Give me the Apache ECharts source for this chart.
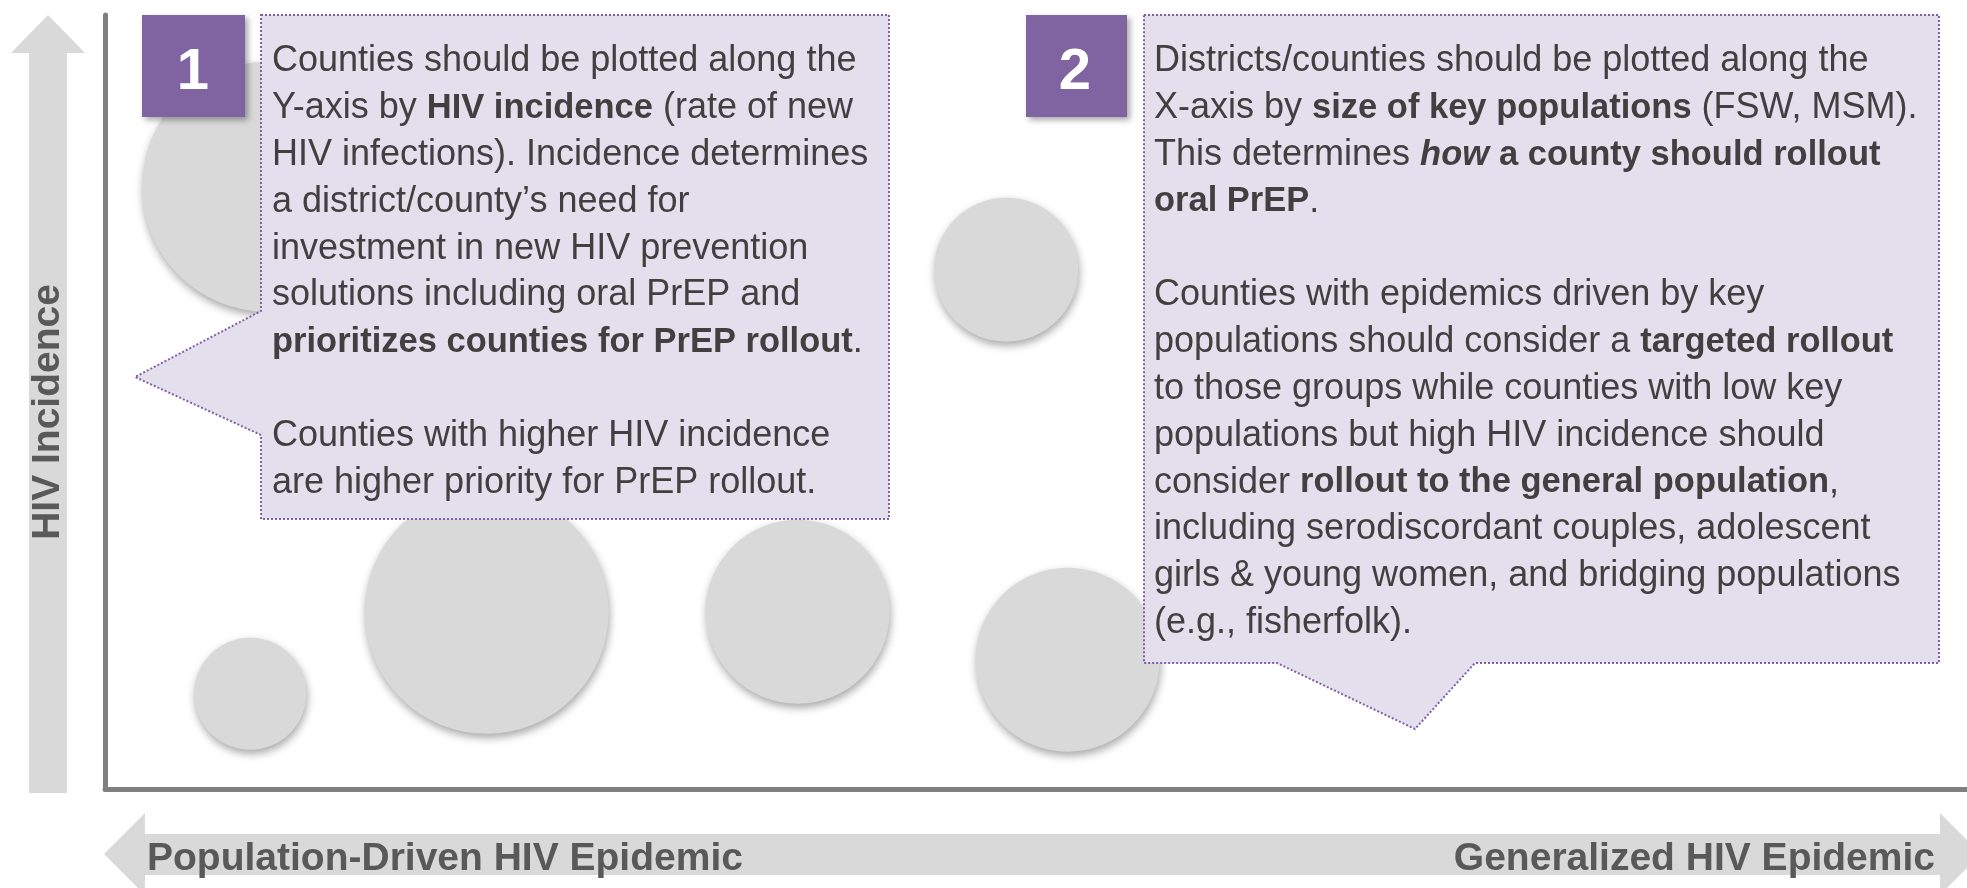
<!DOCTYPE html>
<html>
<head>
<meta charset="utf-8">
<script src="https://cdn.jsdelivr.net/npm/echarts@6/dist/echarts.min.js"></script>
<style>
  html, body { margin: 0; padding: 0; background: #ffffff; }
  #chart { width: 1967px; height: 888px; }
</style>
</head>
<body>
<div id="chart"></div>
<script>
// ---- Data ----
// Bubble positions on a 0–100 key-population (x) / HIV-incidence (y) scale
const bubbleX = [8.7, 48.4, 7.8, 20.5, 37.2, 51.7];
const bubbleY = [77.8, 67.1, 12.3, 22.9, 22.9, 16.7];
// Bubble magnitude (radius units)
const bubbleRadius = [125, 72, 56, 122, 92, 92];

// Axis titles
const yAxisTitle = 'HIV Incidence';
const xAxisLeftTitle = 'Population-Driven HIV Epidemic';
const xAxisRightTitle = 'Generalized HIV Epidemic';

// Callout badges and texts
const badgeLabels = ['1', '2'];
const callout1Lines = [
  'Counties should be plotted along the',
  'Y-axis by {b|HIV incidence} (rate of new',
  'HIV infections). Incidence determines',
  'a district/county\u2019s need for',
  'investment in new HIV prevention',
  'solutions including oral PrEP and',
  '{b|prioritizes counties for PrEP rollout}.',
  '',
  'Counties with higher HIV incidence',
  'are higher priority for PrEP rollout.'
];
const callout2Lines = [
  'Districts/counties should be plotted along the',
  'X-axis by {b|size of key populations} (FSW, MSM).',
  'This determines {bi|how} {b|a county should rollout}',
  '{b|oral PrEP}.',
  '',
  'Counties with epidemics driven by key',
  'populations should consider a {b|targeted rollout}',
  'to those groups while counties with low key',
  'populations but high HIV incidence should',
  'consider {b|rollout to the general population},',
  'including serodiscordant couples, adolescent',
  'girls & young women, and bridging populations',
  '(e.g., fisherfolk).'
];

// ---- Styling ----
const FONT = "'Liberation Sans', Arial, 'DejaVu Sans', sans-serif";
const TEXT_COLOR = '#404040';
const LABEL_COLOR = '#595959';
const ARROW_COLOR = '#d9d9d9';
const CALLOUT_FILL = '#e4dfec';
const CALLOUT_STROKE = '#7f5fa8';
const BADGE_FILL = '#8064a2';
const BODY_SIZE = 36;
const BOLD_SIZE = 34.5;
const LINE_H = 46.8;

const chart = echarts.init(document.getElementById('chart'), null, { renderer: 'canvas' });

function richStyles() {
  return {
    b: { fontFamily: FONT, fontSize: BOLD_SIZE, fontWeight: 'bold', fill: TEXT_COLOR, lineHeight: LINE_H },
    bi: { fontFamily: FONT, fontSize: BOLD_SIZE, fontWeight: 'bold', fontStyle: 'italic', fill: TEXT_COLOR, lineHeight: LINE_H }
  };
}

const calloutStyle = {
  fill: CALLOUT_FILL,
  stroke: CALLOUT_STROKE,
  lineWidth: 2,
  lineDash: [2, 2]
};

const option = {
  backgroundColor: '#ffffff',
  animation: false,
  grid: { left: 105, right: 0, top: 15, bottom: 99, containLabel: false },
  xAxis: {
    type: 'value', min: 0, max: 100,
    axisLine: { show: true, onZero: false, lineStyle: { color: '#7f7f7f', width: 5 } },
    axisTick: { show: false }, axisLabel: { show: false }, splitLine: { show: false }
  },
  yAxis: {
    type: 'value', min: 0, max: 100,
    axisLine: { show: true, onZero: false, lineStyle: { color: '#7f7f7f', width: 5 } },
    axisTick: { show: false }, axisLabel: { show: false }, splitLine: { show: false }
  },
  series: [{
    type: 'scatter',
    z: 2,
    data: bubbleX.map((x, i) => [x, bubbleY[i], bubbleRadius[i]]),
    symbol: 'circle',
    symbolSize: (val) => val[2] * 2,
    itemStyle: {
      color: '#d9d9d9',
      opacity: 1,
      shadowBlur: 8,
      shadowOffsetX: 1,
      shadowOffsetY: 4,
      shadowColor: 'rgba(0,0,0,0.35)'
    },
    emphasis: { disabled: true },
    silent: true
  }],
  graphic: [
    // Up arrow (HIV incidence)
    {
      type: 'polygon', z: 0, silent: true,
      shape: { points: [[11, 53], [48, 15], [85, 53], [67, 53], [67, 793], [29, 793], [29, 53]] },
      style: { fill: ARROW_COLOR }
    },
    {
      type: 'text', z: 1, silent: true,
      x: 48, y: 412, rotation: Math.PI / 2,
      style: {
        text: yAxisTitle, fontFamily: FONT, fontSize: 39, fontWeight: 'bold',
        fill: LABEL_COLOR, align: 'center', verticalAlign: 'middle'
      }
    },
    // Double arrow (epidemic type)
    {
      type: 'polygon', z: 0, silent: true,
      shape: { points: [[104, 854], [145, 813], [145, 834], [1940, 834], [1940, 813], [1981, 854],
                        [1940, 895], [1940, 875], [145, 875], [145, 895]] },
      style: { fill: ARROW_COLOR }
    },
    {
      type: 'text', z: 1, silent: true,
      x: 147, y: 859,
      style: {
        text: xAxisLeftTitle, fontFamily: FONT, fontSize: 39, fontWeight: 'bold',
        fill: LABEL_COLOR, align: 'left', verticalAlign: 'middle'
      }
    },
    {
      type: 'text', z: 1, silent: true,
      x: 1935, y: 859,
      style: {
        text: xAxisRightTitle, fontFamily: FONT, fontSize: 39, fontWeight: 'bold',
        fill: LABEL_COLOR, align: 'right', verticalAlign: 'middle'
      }
    },
    // Callout 1
    {
      type: 'polygon', z: 100, silent: true,
      shape: { points: [[261, 15], [889, 15], [889, 519], [261, 519], [261, 435], [135, 377], [261, 311]] },
      style: calloutStyle
    },
    {
      type: 'text', z: 101, silent: true,
      x: 272, y: 38,
      style: {
        text: callout1Lines.join('\n'),
        fontFamily: FONT, fontSize: BODY_SIZE, fill: TEXT_COLOR, lineHeight: LINE_H,
        align: 'left', verticalAlign: 'top',
        rich: richStyles()
      }
    },
    // Callout 2
    {
      type: 'polygon', z: 100, silent: true,
      shape: { points: [[1144, 15], [1939, 15], [1939, 663], [1475, 663], [1415, 729], [1277, 663], [1144, 663]] },
      style: calloutStyle
    },
    {
      type: 'text', z: 101, silent: true,
      x: 1154, y: 38,
      style: {
        text: callout2Lines.join('\n'),
        fontFamily: FONT, fontSize: BODY_SIZE, fill: TEXT_COLOR, lineHeight: LINE_H,
        align: 'left', verticalAlign: 'top',
        rich: richStyles()
      }
    },
    // Badges
    {
      type: 'rect', z: 102, silent: true,
      shape: { x: 142, y: 15, width: 103, height: 102 },
      style: { fill: BADGE_FILL, shadowBlur: 6, shadowOffsetX: 3, shadowOffsetY: 3, shadowColor: 'rgba(0,0,0,0.35)' }
    },
    {
      type: 'text', z: 103, silent: true,
      x: 193, y: 73,
      style: {
        text: badgeLabels[0], fontFamily: FONT, fontSize: 58, fontWeight: 'bold',
        fill: '#ffffff', align: 'center', verticalAlign: 'middle'
      }
    },
    {
      type: 'rect', z: 102, silent: true,
      shape: { x: 1026, y: 15, width: 101, height: 102 },
      style: { fill: BADGE_FILL, shadowBlur: 6, shadowOffsetX: 3, shadowOffsetY: 3, shadowColor: 'rgba(0,0,0,0.35)' }
    },
    {
      type: 'text', z: 103, silent: true,
      x: 1075, y: 73,
      style: {
        text: badgeLabels[1], fontFamily: FONT, fontSize: 58, fontWeight: 'bold',
        fill: '#ffffff', align: 'center', verticalAlign: 'middle'
      }
    }
  ]
};

chart.setOption(option);
</script>
</body>
</html>
